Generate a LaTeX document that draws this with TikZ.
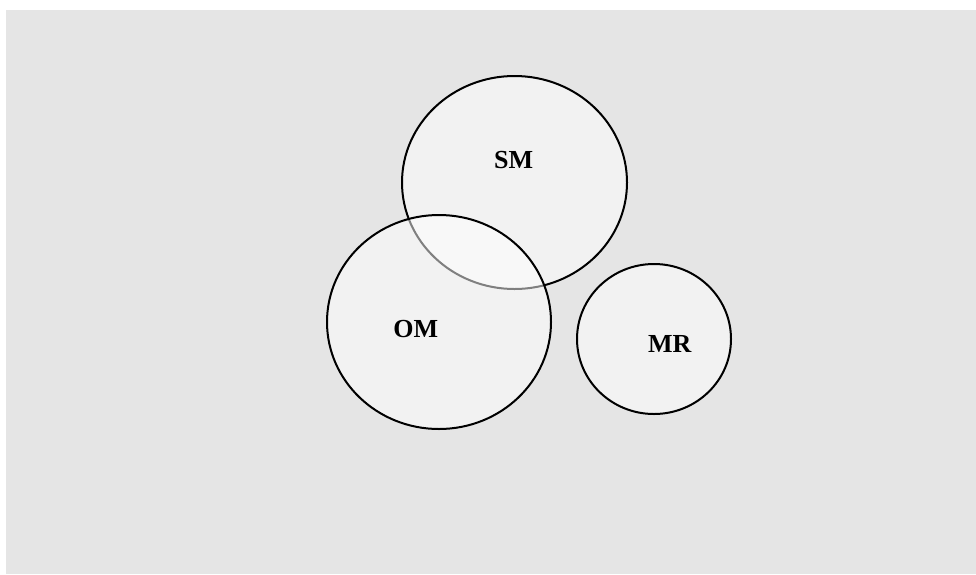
\documentclass[tikz,border=0pt]{standalone}
\usepackage{fontspec}
\setmainfont{Liberation Serif}
\usetikzlibrary{shapes.geometric}
\definecolor{bggray}{HTML}{E5E5E5}
\tikzset{
  circ/.style={ellipse, draw=black, line width=2pt, fill=white, fill opacity=0.5, text opacity=1, inner sep=0pt, outer sep=0pt},
  lbl/.style={inner sep=0pt, outer sep=0pt, font=\fontsize{26}{30}\selectfont\bfseries}
}
\begin{document}
\begin{tikzpicture}[x=1pt,y=-1pt]
  \useasboundingbox (0,0) rectangle (976,574);
  \fill[white] (0,0) rectangle (976,574);
  \fill[bggray] (6,10) rectangle (976,574);
  \node[circ, minimum width=225pt, minimum height=213pt] (sm) at (514.5,182.5) {};
  \node[circ, minimum width=224pt, minimum height=214pt] (om) at (439,322) {};
  \node[circ, minimum width=154pt, minimum height=150pt] (mr) at (654,339) {};
  \node[lbl] (smlabel) at (513.7,160.5) {SM};
  \node[lbl] (omlabel) at (415.8,328.7) {OM};
  \node[lbl] (mrlabel) at (669.7,343.5) {MR};
\end{tikzpicture}
\end{document}
